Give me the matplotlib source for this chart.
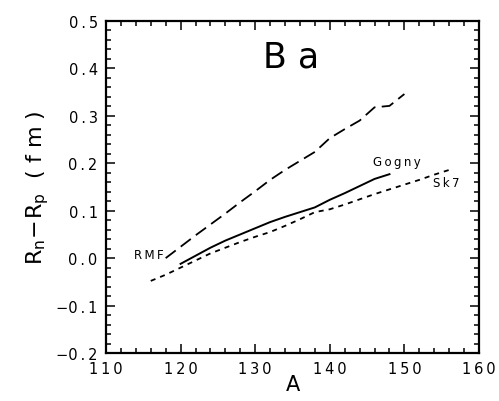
import numpy as np
import matplotlib
matplotlib.use("Agg")
import matplotlib.pyplot as plt

# data
a_rmf = [118, 120, 122, 124, 126, 128, 130, 132, 134, 136, 138, 140, 142, 144, 146, 148, 150]
r_rmf = [0.000, 0.024, 0.048, 0.071, 0.094, 0.118, 0.141, 0.165, 0.186, 0.205, 0.224,
         0.253, 0.272, 0.290, 0.318, 0.321, 0.346]

a_gogny = [120, 122, 124, 126, 128, 130, 132, 134, 136, 138, 140, 142, 144, 146, 148]
r_gogny = [-0.012, 0.005, 0.022, 0.037, 0.050, 0.063, 0.076, 0.087, 0.097, 0.107,
           0.123, 0.137, 0.152, 0.167, 0.177]

a_sk7 = [116, 118, 120, 122, 124, 126, 128, 130, 132, 134, 136, 138, 140, 142, 144,
         146, 148, 150, 152, 154, 156]
r_sk7 = [-0.048, -0.035, -0.020, -0.005, 0.010, 0.022, 0.034, 0.045, 0.055, 0.068,
         0.082, 0.097, 0.103, 0.113, 0.124, 0.135, 0.145, 0.155, 0.165, 0.176, 0.186]

x_ticks = [110, 120, 130, 140, 150, 160]
y_ticks = [-0.2, -0.1, 0.0, 0.1, 0.2, 0.3, 0.4, 0.5]


def spaced(s):
    # widen the text a bit like the original plot
    return "\u2009".join(s)


fig = plt.figure(figsize=(4.99, 4.02), dpi=100)
ax = fig.add_axes([0.2124, 0.1194, 0.7475, 0.8259])

ax.plot(a_rmf, r_rmf, color="black", lw=1.3, dashes=(7, 3.5))
ax.plot(a_gogny, r_gogny, color="black", lw=1.4)
ax.plot(a_sk7, r_sk7, color="black", lw=1.3, dashes=(2.8, 2.8))

ax.set_xlim(110, 160)
ax.set_ylim(-0.2, 0.5)
ax.set_xticks(x_ticks)
ax.set_yticks(y_ticks)
ax.set_xticks(np.arange(110, 161, 2), minor=True)
ax.set_yticks(np.arange(-0.2, 0.501, 0.02), minor=True)
ax.set_xticklabels([spaced(str(t)) for t in x_ticks])
ax.set_yticklabels([spaced("%.1f" % t).replace("-\u2009", "\u2212") for t in y_ticks])

ax.tick_params(which="both", direction="in", top=True, right=True, width=1.1,
               labelsize=10.5, pad=6)
ax.tick_params(which="major", length=6.5)
ax.tick_params(which="minor", length=3.4)
for sp in ax.spines.values():
    sp.set_linewidth(1.6)

ax.text(134.8, 0.426, "B a", fontsize=25, ha="center", va="center")
ax.text(113.8, 0.008, spaced("RMF"), fontsize=8.5, ha="left", va="center")
ax.text(145.8, 0.203, spaced("Gogny"), fontsize=8.5, ha="left", va="center")
ax.text(153.8, 0.160, spaced("Sk7"), fontsize=8.5, ha="left", va="center")

ax.set_xlabel("A", fontsize=15, labelpad=-2)
ax.set_ylabel(r"$\mathregular{R_n\!-\!R_p}$  ( f m )", fontsize=16, labelpad=4)

fig.savefig("out.png", dpi=100)
